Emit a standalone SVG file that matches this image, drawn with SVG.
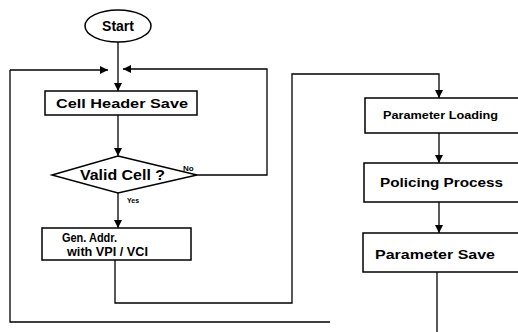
<svg xmlns="http://www.w3.org/2000/svg" width="518" height="332" viewBox="0 0 518 332">
<style>
.box{fill:#fff;stroke:#000;stroke-width:1.5}
.ln{fill:none;stroke:#000;stroke-width:1.3}
.t{font-family:"Liberation Sans",Arial,sans-serif;font-weight:bold;fill:#000}
</style>
<defs>
<marker id="ah" viewBox="0 0 10 10" refX="10" refY="5" markerWidth="8" markerHeight="8" markerUnits="userSpaceOnUse" orient="auto">
<path d="M0,0 L10,5 L0,10 Z" fill="#000"/>
</marker>
</defs>
<rect width="518" height="332" fill="#fff"/>
<g id="connectors">
<path class="ln" d="M118,42 V91" marker-end="url(#ah)"/>
<path class="ln" d="M10,70 H108" marker-end="url(#ah)"/>
<path class="ln" d="M197,175 H267 V69 H123" marker-end="url(#ah)"/>
<path class="ln" d="M118,115 V156" marker-end="url(#ah)"/>
<path class="ln" d="M118,193 V228" marker-end="url(#ah)"/>
<path class="ln" d="M115,260 V303 H292 V74 H439 V98" marker-end="url(#ah)"/>
<path class="ln" d="M439,133 V163" marker-end="url(#ah)"/>
<path class="ln" d="M439,202 V233" marker-end="url(#ah)"/>
<path class="ln" d="M10,70 V322 H330"/>
<path class="ln" d="M437,272 V332"/>
</g>
<g id="start">
<ellipse cx="118" cy="26" rx="33" ry="16" class="box"/>
<text class="t" x="118" y="31" font-size="14" text-anchor="middle">Start</text>
</g>
<g id="cell-header-save">
<rect x="45" y="91" width="152" height="24" class="box"/>
<text class="t" x="56" y="108" font-size="13" textLength="132" lengthAdjust="spacingAndGlyphs">Cell Header Save</text>
</g>
<g id="valid-cell">
<polygon points="118,156 197,175 118,193 52,175" class="box"/>
<text class="t" x="80" y="180" font-size="14" textLength="85" lengthAdjust="spacingAndGlyphs">Valid Cell ?</text>
<text class="t" x="183" y="171" font-size="8">No</text>
<text class="t" x="127" y="203" font-size="7">Yes</text>
</g>
<g id="gen-addr">
<rect x="42" y="228" width="149" height="32" class="box"/>
<text class="t" x="62" y="242" font-size="12" textLength="55" lengthAdjust="spacingAndGlyphs">Gen. Addr.</text>
<text class="t" x="67" y="256" font-size="12" textLength="81" lengthAdjust="spacingAndGlyphs">with VPI / VCI</text>
</g>
<g id="parameter-loading">
<rect x="365" y="98" width="170" height="35" class="box"/>
<text class="t" x="383" y="119" font-size="11" textLength="115" lengthAdjust="spacingAndGlyphs">Parameter Loading</text>
</g>
<g id="policing-process">
<rect x="364" y="163" width="170" height="39" class="box"/>
<text class="t" x="380" y="187" font-size="12" textLength="123" lengthAdjust="spacingAndGlyphs">Policing Process</text>
</g>
<g id="parameter-save">
<rect x="363" y="233" width="170" height="39" class="box"/>
<text class="t" x="375" y="259" font-size="12" textLength="120" lengthAdjust="spacingAndGlyphs">Parameter Save</text>
</g>
</svg>
